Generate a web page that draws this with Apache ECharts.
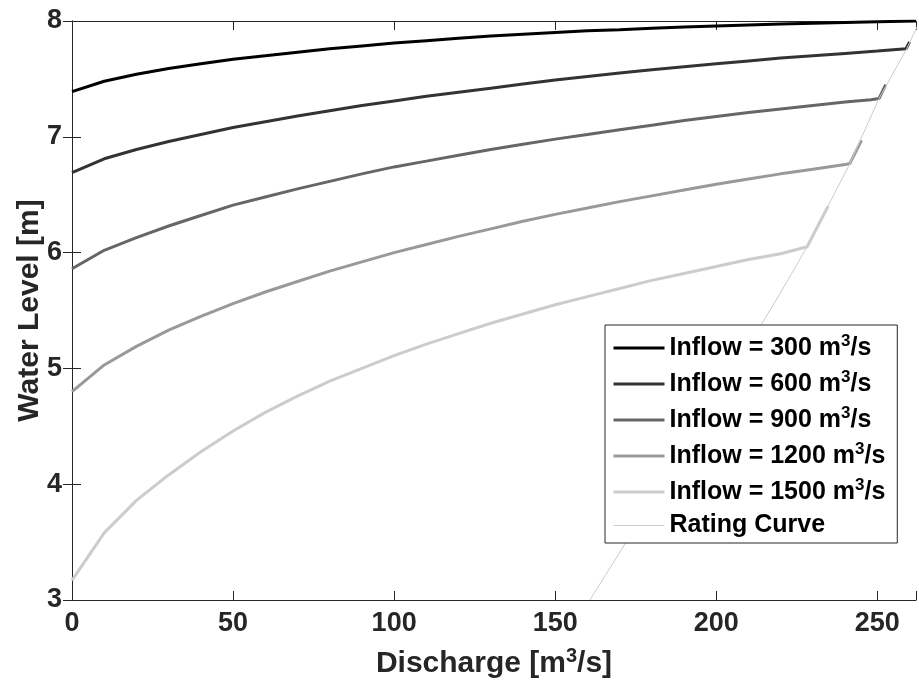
<!DOCTYPE html>
<html>
<head>
<meta charset="utf-8">
<script src="https://cdn.jsdelivr.net/npm/echarts@6/dist/echarts.min.js"></script>
<style>
  html, body { margin: 0; padding: 0; background: #fff; }
  #chart { width: 919px; height: 691px; }
</style>
</head>
<body>
<div id="chart"></div>
<script>
// Water level against discharge for several inflows, plus the rating curve.
const inflows = ['300', '600', '900', '1200', '1500'];
const lineColors = ['#000000', '#333333', '#666666', '#999999', '#cccccc'];

const q300 = [0, 10, 20, 30, 40, 50, 60, 70, 80, 90, 100, 110, 120, 130, 140, 150, 160, 170, 180, 190, 200, 210, 220, 230, 240, 250, 262];
const h300 = [7.39, 7.48, 7.54, 7.59, 7.63, 7.67, 7.70, 7.73, 7.76, 7.785, 7.81, 7.83, 7.85, 7.87, 7.885, 7.90, 7.915, 7.925, 7.937, 7.948, 7.957, 7.966, 7.974, 7.981, 7.987, 7.993, 8.00];

const q600 = [0, 10, 20, 30, 40, 50, 60, 70, 80, 90, 100, 110, 120, 130, 140, 150, 160, 170, 180, 190, 200, 210, 220, 230, 240, 250, 258.9, 260.0];
const h600 = [6.69, 6.81, 6.89, 6.96, 7.02, 7.08, 7.13, 7.18, 7.225, 7.27, 7.31, 7.35, 7.385, 7.42, 7.455, 7.49, 7.52, 7.55, 7.58, 7.605, 7.63, 7.655, 7.68, 7.70, 7.72, 7.74, 7.76, 7.82];

const q900 = [0, 10, 20, 30, 40, 50, 60, 70, 80, 90, 100, 110, 120, 130, 140, 150, 160, 170, 180, 190, 200, 210, 220, 230, 240, 248, 250.5, 252.6];
const h900 = [5.86, 6.02, 6.13, 6.23, 6.32, 6.41, 6.48, 6.55, 6.615, 6.68, 6.74, 6.79, 6.84, 6.89, 6.935, 6.98, 7.02, 7.06, 7.10, 7.14, 7.175, 7.21, 7.24, 7.27, 7.30, 7.32, 7.33, 7.45];

const q1200 = [0, 10, 20, 30, 40, 50, 60, 70, 80, 90, 100, 110, 120, 130, 140, 150, 160, 170, 180, 190, 200, 210, 220, 230, 240, 241.5, 245.1];
const h1200 = [4.80, 5.03, 5.19, 5.33, 5.45, 5.56, 5.66, 5.75, 5.84, 5.92, 6.00, 6.07, 6.14, 6.205, 6.27, 6.33, 6.385, 6.44, 6.49, 6.54, 6.59, 6.635, 6.68, 6.72, 6.76, 6.77, 6.97];

const q1500 = [0, 10, 20, 30, 40, 50, 60, 70, 80, 90, 100, 110, 120, 130, 140, 150, 160, 170, 180, 190, 200, 210, 220, 228.2, 234.7];
const h1500 = [3.17, 3.58, 3.86, 4.08, 4.28, 4.46, 4.62, 4.76, 4.89, 5.00, 5.11, 5.21, 5.30, 5.39, 5.47, 5.55, 5.62, 5.69, 5.76, 5.82, 5.88, 5.94, 5.99, 6.05, 6.40];

const qRating = [160.8, 172.0, 183.3, 194.4, 205.6, 218.6, 228.2, 241.5, 250.5, 259.1, 263.2];
const hRating = [3.00, 3.50, 4.00, 4.50, 5.00, 5.59, 6.05, 6.77, 7.33, 7.76, 8.00];

const xTicks = [0, 50, 100, 150, 200, 250];
const yTicks = [3, 4, 5, 6, 7, 8];

const inflowQ = [q300, q600, q900, q1200, q1500];
const inflowH = [h300, h600, h900, h1200, h1500];

const FONT = 'Liberation Sans';
const AXIS_COLOR = '#262626';
const INFLOW_WIDTH = 3;
const RATING_WIDTH = 1;

const pairs = (xs, ys) => xs.map((x, i) => [x, ys[i]]);

const series = inflows.map((f, i) => ({
  name: 'Inflow = ' + f + ' m3/s',
  type: 'line',
  symbol: 'none',
  data: pairs(inflowQ[i], inflowH[i]),
  lineStyle: { color: lineColors[i], width: INFLOW_WIDTH },
  itemStyle: { color: lineColors[i] },
  z: 2
}));
series.push({
  name: 'Rating Curve',
  type: 'line',
  symbol: 'none',
  data: pairs(qRating, hRating),
  lineStyle: { color: '#cccccc', width: RATING_WIDTH },
  itemStyle: { color: '#cccccc' },
  z: 3
});

const richText = {
  t: { fontFamily: FONT, fontWeight: 'bold', fontSize: 25, color: '#000', lineHeight: 30 },
  r: { fontFamily: FONT, fontWeight: 'bold', fontSize: 25, color: '#000', lineHeight: 25 },
  sup: { fontFamily: FONT, fontWeight: 'bold', fontSize: 17, color: '#000', lineHeight: 14, verticalAlign: 'top' }
};

const nameRich = {
  t: { fontFamily: FONT, fontWeight: 'bold', fontSize: 30, color: AXIS_COLOR, lineHeight: 36 },
  sup: { fontFamily: FONT, fontWeight: 'bold', fontSize: 20, color: AXIS_COLOR, lineHeight: 16, verticalAlign: 'top' }
};

const axisCommon = {
  axisLine: { show: true, lineStyle: { color: AXIS_COLOR, width: 1 } },
  axisTick: { show: true, inside: true, length: 9, lineStyle: { color: AXIS_COLOR } },
  splitLine: { show: false }
};

const chart = echarts.init(document.getElementById('chart'), null, { renderer: 'canvas' });
chart.setOption({
  backgroundColor: '#ffffff',
  animation: false,
  grid: { left: 72, right: 0, top: 21, bottom: 91, containLabel: false },
  xAxis: [
    Object.assign({
      type: 'value', min: 0, max: 262, interval: 50, position: 'bottom',
      name: '{t|Discharge [m}{sup|3}{t|/s]}',
      nameLocation: 'middle', nameGap: 46, nameMoveOverlap: false,
      nameTextStyle: { rich: nameRich },
      axisLabel: {
        fontFamily: FONT, fontWeight: 'bold', fontSize: 27, color: AXIS_COLOR, margin: 10,
        formatter: v => (xTicks.indexOf(v) >= 0 ? String(v) : '')
      }
    }, axisCommon),
    Object.assign({
      type: 'value', min: 0, max: 262, interval: 50, position: 'top',
      axisLabel: { show: false }
    }, axisCommon)
  ],
  yAxis: [
    Object.assign({
      type: 'value', min: 3, max: 8, interval: 1, position: 'left',
      name: 'Water Level [m]',
      nameLocation: 'middle', nameGap: 27, nameMoveOverlap: false,
      nameTextStyle: { fontFamily: FONT, fontWeight: 'bold', fontSize: 30, color: AXIS_COLOR },
      axisLabel: {
        fontFamily: FONT, fontWeight: 'bold', fontSize: 27, color: AXIS_COLOR, margin: 10,
        formatter: v => (yTicks.indexOf(v) >= 0 ? String(v) : '')
      }
    }, axisCommon),
    Object.assign({
      type: 'value', min: 3, max: 8, interval: 1, position: 'right',
      axisLabel: { show: false }
    }, axisCommon)
  ],
  legend: {
    orient: 'vertical',
    left: 605,
    top: 325,
    itemWidth: 51,
    itemHeight: 14,
    itemGap: 8.5,
    padding: [8, 12, 5, 7],
    backgroundColor: '#ffffff',
    borderColor: AXIS_COLOR,
    borderWidth: 1,
    borderRadius: 0,
    // line samples only, no marker dot
    itemStyle: { opacity: 0 },
    data: series.map(s => ({
      name: s.name,
      lineStyle: { width: s.lineStyle.width }
    })),
    formatter: name => {
      const idx = series.findIndex(s => s.name === name);
      if (idx < inflows.length) {
        return '{t|Inflow = ' + inflows[idx] + ' m}{sup|3}{t|/s}';
      }
      return '{r|' + name + '}';
    },
    textStyle: { rich: richText }
  },
  series: series
});
</script>
</body>
</html>
